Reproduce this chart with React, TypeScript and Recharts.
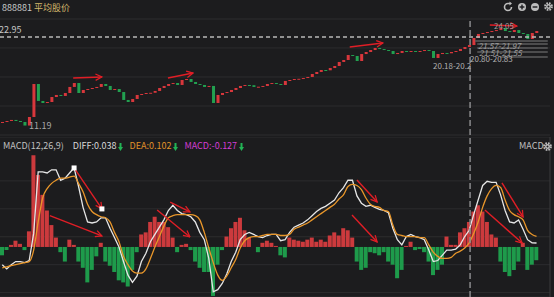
import { ComposedChart, Bar, Line, XAxis, YAxis, CartesianGrid, ReferenceLine, ReferenceDot, Cell } from 'recharts'

// daily closes of 888881 (open of each candle = previous close)
const firstOpen = 11.6
const closes = [
  11.72, 11.85, 11.99, 11.85, 11.72, 11.25, 12.38, 16.74, 14.5, 14.23,
  14.36, 15.02, 15.29, 15.16, 15.55, 16.35, 16.87, 15.55, 15.95, 16.08,
  16.21, 16.35, 16.74, 16.48, 15.95, 16.08, 15.68, 14.63, 14.36, 14.76,
  15.29, 15.42, 15.55, 15.58, 15.82, 16.21, 16.48, 16.74, 16.87, 16.61,
  17.27, 17.4, 17.01, 16.74, 16.61, 16.35, 16.48, 14.23, 15.29, 15.55,
  15.68, 15.95, 16.21, 16.48, 16.61, 16.58, 16.35, 16.38, 16.48, 16.74,
  16.87, 16.74, 16.61, 17.14, 17.27, 17.4, 17.43, 17.53, 17.67, 18.06,
  18.33, 18.59, 18.55, 18.85, 19.12, 19.65, 19.91, 20.57, 20.44, 19.78,
  20.7, 20.97, 21.23, 21.5, 21.36, 21.23, 21.1, 20.7, 20.84, 21.1,
  20.97, 21.1, 20.97, 21.1, 21.23, 21.1, 20.18, 20.7, 20.84, 20.8,
  20.97, 21.1, 21.36, 21.63, 21.89, 22.82, 23.35, 23.48, 23.61, 23.74,
  23.87, 24.14, 23.74, 23.61, 23.87, 23.48, 23.35, 22.69, 23.48, 23.74,
]

const diff = [
  -0.17, -0.21, -0.17, -0.14, -0.14, -0.15, -0.13, 0.13, 0.72, 0.72,
  0.71, 0.74, 0.74, 0.64, 0.66, 0.71, 0.76, 0.58, 0.38, 0.24,
  0.23, 0.24, 0.28, 0.28, 0.18, 0.09, 0.0, -0.14, -0.27, -0.34,
  -0.28, -0.14, -0.06, 0.05, 0.12, 0.19, 0.26, 0.35, 0.4, 0.35,
  0.32, 0.31, 0.29, 0.24, 0.14, 0.07, -0.11, -0.43, -0.41, -0.35,
  -0.26, -0.14, -0.05, 0.07, 0.12, 0.14, 0.12, 0.1, 0.09, 0.11,
  0.12, 0.12, 0.06, 0.07, 0.14, 0.19, 0.21, 0.23, 0.26, 0.3,
  0.34, 0.37, 0.39, 0.42, 0.45, 0.52, 0.57, 0.64, 0.64, 0.49,
  0.42, 0.39, 0.4, 0.38, 0.36, 0.35, 0.33, 0.18, 0.07, 0.02,
  0.1, 0.12, 0.1, 0.09, 0.07, -0.03, -0.14, -0.13, -0.08, -0.03,
  -0.03, -0.02, 0.02, 0.1, 0.16, 0.31, 0.45, 0.59, 0.63, 0.62,
  0.62, 0.5, 0.35, 0.24, 0.23, 0.26, 0.17, 0.07, 0.04, 0.038,
]

const dea = [
  -0.2, -0.19, -0.18, -0.17, -0.16, -0.15, -0.14, -0.03, 0.24, 0.47,
  0.56, 0.61, 0.64, 0.66, 0.66, 0.67, 0.68, 0.61, 0.53, 0.41,
  0.34, 0.31, 0.29, 0.28, 0.24, 0.14, 0.05, -0.09, -0.17, -0.23,
  -0.25, -0.25, -0.21, -0.11, 0.0, 0.1, 0.2, 0.28, 0.3, 0.31,
  0.31, 0.31, 0.31, 0.3, 0.26, 0.14, -0.01, -0.15, -0.27, -0.32,
  -0.28, -0.2, -0.12, -0.01, 0.06, 0.09, 0.1, 0.1, 0.11, 0.12,
  0.12, 0.12, 0.11, 0.11, 0.12, 0.17, 0.19, 0.21, 0.23, 0.26,
  0.29, 0.32, 0.35, 0.38, 0.41, 0.46, 0.5, 0.58, 0.6, 0.59,
  0.55, 0.47, 0.41, 0.39, 0.38, 0.35, 0.34, 0.21, 0.12, 0.11,
  0.1, 0.1, 0.1, 0.09, 0.09, 0.02, -0.05, -0.09, -0.11, -0.11,
  -0.1, -0.06, -0.04, -0.01, 0.04, 0.13, 0.24, 0.38, 0.49, 0.56,
  0.59, 0.57, 0.45, 0.35, 0.31, 0.29, 0.26, 0.16, 0.12, 0.102,
]

const hist = [
  -0.08, -0.03, 0.02, 0.06, 0.03, -0.03, 0.15, 0.88, 0.69, 0.5,
  0.35, 0.21, 0.09, -0.05, -0.14, 0.07, 0.02, -0.14, -0.2, -0.34,
  -0.22, -0.09, 0.04, -0.14, -0.18, -0.24, -0.32, -0.34, -0.38, -0.22,
  -0.05, 0.12, 0.14, 0.24, 0.29, 0.24, 0.24, 0.19, 0.09, -0.05,
  0.02, 0.03, -0.03, -0.14, -0.2, -0.24, -0.24, -0.47, -0.17, -0.03,
  0.1, 0.18, 0.24, 0.28, 0.16, 0.09, 0.0, -0.05, 0.04, 0.06,
  0.04, 0.01, -0.08, -0.1, 0.09, 0.07, 0.06, 0.05, 0.07, 0.09,
  0.05, 0.07, 0.05, 0.11, 0.14, 0.11, 0.18, 0.16, 0.09, -0.14,
  -0.22, -0.2, -0.05, -0.06, -0.08, -0.05, -0.14, -0.17, -0.3, -0.22,
  0.01, 0.05, -0.03, -0.02, -0.05, -0.14, -0.27, -0.22, -0.17, 0.1,
  0.02, 0.02, 0.14, 0.18, 0.24, 0.34, 0.4, 0.34, 0.24, 0.12,
  0.09, -0.14, -0.24, -0.28, -0.22, -0.14, 0.04, -0.22, -0.17, -0.127,
]

const priceTicks = [10, 13.83, 17.67, 21.5, 25.33]
const macdTicks = [0.768, 0.634, 0.5, 0.366, 0.232, 0.098, -0.036, -0.17, -0.304, -0.438]

// hand-drawn annotations (x = bar index, y = value)
const priceArrows = [
  [15.8, 17.53, 22.2, 17.67],
  [36.9, 17.53, 42.5, 18.19],
  [77.4, 21.63, 84.8, 22.16],
  [108.6, 24.53, 114.6, 24.4],
]
const macdArrows = [
  [16.0, 0.758, 22.2, 0.365],
  [10.6, 0.3, 22.2, 0.106],
  [34.5, 0.355, 41.8, 0.096],
  [37.4, 0.43, 41.8, 0.336],
  [79.0, 0.643, 83.5, 0.432],
  [77.9, 0.307, 83.5, 0.048],
  [111.3, 0.614, 116.0, 0.288],
  [107.5, 0.355, 115.8, 0.038],
]
const levelBars = [
  [105.3, 22.42],
  [105.8, 22.03],
  [105.8, 21.5],
  [105.8, 20.97],
  [110.9, 20.31],
]
const crossIndex = 104.2
const crossPrice = 22.95

const BG = '#1c1c1e'
const RED = '#d8373c'
const GREEN = '#22a050'
const HRED = '#cc3a3d'
const HGREEN = '#1e9b4b'
const ARROW = '#e01e26'
const GRID = '#2c2c2e'

const candles = closes.map((c, i) => {
  const o = i === 0 ? firstOpen : closes[i - 1]
  return { i, open: o, close: c, body: [Math.min(o, c), Math.max(o, c)] }
})
const macdRows = diff.map((d, i) => ({ i, diff: d, dea: dea[i], hist: hist[i] }))

function Candle(props: any) {
  const { x, y, width, height, payload } = props
  const up = payload.close >= payload.open
  const h = Math.max(1, Math.abs(height))
  const top = height < 0 ? y + height : y
  return <rect x={x} y={top} width={width} height={h} fill={up ? RED : GREEN} />
}

const arrowShape = (p: any) => (
  <line x1={p.x1} y1={p.y1} x2={p.x2} y2={p.y2} stroke={ARROW} strokeWidth={1.4} markerEnd="url(#ah)" />
)

const square = (p: any) => <rect x={p.cx - 2.5} y={p.cy - 2.5} width={5} height={5} fill="#fff" />

function DownMark() {
  return (
    <svg width={5} height={8} style={{ marginLeft: 2, verticalAlign: 'middle' }}>
      <rect x={1.5} y={0} width={2} height={4} fill="#22b455" />
      <path d="M0,4 L5,4 L2.5,8 Z" fill="#22b455" />
    </svg>
  )
}

function Gear({ left, top }: { left: number; top: number }) {
  return (
    <svg width={9} height={9} style={{ position: 'absolute', left, top }}>
      <circle cx={4.5} cy={4.5} r={3.3} fill="none" stroke="#bdbdbd" strokeWidth={2.2} strokeDasharray="1.6 1" />
      <circle cx={4.5} cy={4.5} r={2.4} fill="#bdbdbd" />
      <circle cx={4.5} cy={4.5} r={1} fill={BG} />
    </svg>
  )
}

const txt = (left: number, top: number, color: string, extra: any = {}) => ({
  position: 'absolute' as const,
  left,
  top,
  color,
  fontSize: 9,
  lineHeight: '10px',
  whiteSpace: 'nowrap' as const,
  ...extra,
})

const small = { fontSize: 8, lineHeight: '7px' }

export default function App() {
  return (
    <div
      style={{
        position: 'absolute',
        left: 0,
        top: 0,
        width: 554,
        height: 297,
        background: BG,
        overflow: 'hidden',
        fontFamily: '"Noto Sans CJK SC", "Noto Sans", sans-serif',
      }}
    >
      <svg width={0} height={0} style={{ position: 'absolute' }}>
        <defs>
          <marker id="ah" viewBox="0 0 10 10" refX="9" refY="5" markerWidth="8" markerHeight="8" markerUnits="userSpaceOnUse" orient="auto">
            <path d="M1,1 L9,5 L1,9" fill="none" stroke={ARROW} strokeWidth="1.6" />
          </marker>
        </defs>
      </svg>

      <div style={{ position: 'absolute', left: 0, top: 0 }}>
        <ComposedChart width={554} height={136} data={candles} margin={{ top: 19, right: 4, left: 0, bottom: 1 }}>
          <CartesianGrid vertical={false} stroke={GRID} />
          <XAxis type="number" dataKey="i" domain={[-0.5, 122]} hide />
          <YAxis domain={[10, 25.33]} ticks={priceTicks} hide allowDataOverflow />
          <ReferenceLine y={crossPrice} stroke="#b8b8b8" strokeWidth={1.5} strokeDasharray="4 3" />
          {levelBars.map(([x, y], k) => (
            <ReferenceLine key={'lv' + k} segment={[{ x, y }, { x: 121.5, y }]} stroke="#5c5c5e" strokeWidth={1.5} />
          ))}
          <Bar dataKey="body" barSize={3} shape={Candle} isAnimationActive={false} />
          <ReferenceLine x={crossIndex} stroke="#8a8a8c" strokeWidth={1.5} strokeDasharray="6 3" />
          {priceArrows.map(([x1, y1, x2, y2], k) => (
            <ReferenceLine key={'pa' + k} segment={[{ x: x1, y: y1 }, { x: x2, y: y2 }]} shape={arrowShape} />
          ))}
        </ComposedChart>
      </div>

      <div style={{ position: 'absolute', left: 0, top: 137 }}>
        <ComposedChart width={554} height={160} data={macdRows} margin={{ top: 0, right: 0, left: 0, bottom: 0 }}>
          <CartesianGrid vertical={false} stroke={GRID} />
          <XAxis type="number" dataKey="i" domain={[-0.5, 122]} hide />
          <YAxis
            orientation="right"
            width={4}
            domain={[-0.48, 1.055]}
            ticks={macdTicks}
            allowDataOverflow
            tickLine={false}
            axisLine={{ stroke: '#3a3a3c' }}
            tickMargin={2}
            tick={{ fill: '#aaaaaa', fontSize: 9 }}
            tickFormatter={(v) => Number(v).toFixed(3)}
          />
          <Bar dataKey="hist" barSize={4} isAnimationActive={false}>
            {macdRows.map((r) => (
              <Cell key={r.i} fill={r.hist >= 0 ? HRED : HGREEN} />
            ))}
          </Bar>
          <Line type="linear" dataKey="diff" stroke="#e6e6e6" strokeWidth={1.3} dot={false} isAnimationActive={false} />
          <Line type="monotone" dataKey="dea" stroke="#e8962a" strokeWidth={1.3} dot={false} isAnimationActive={false} />
          <ReferenceLine x={crossIndex} stroke="#8a8a8c" strokeWidth={1.5} strokeDasharray="6 3" />
          {macdArrows.map(([x1, y1, x2, y2], k) => (
            <ReferenceLine key={'ma' + k} segment={[{ x: x1, y: y1 }, { x: x2, y: y2 }]} shape={arrowShape} />
          ))}
          <ReferenceDot x={macdArrows[0][0]} y={macdArrows[0][1]} r={3} shape={square} />
          <ReferenceDot x={macdArrows[0][2]} y={macdArrows[0][3]} r={3} shape={square} />
        </ComposedChart>
      </div>

      {/* top header */}
      <div style={txt(2, 3, '#c8c8c8')}>
        888881 <span style={{ color: '#d2b86c' }}>平均股价</span>
      </div>
      <svg width={60} height={12} style={{ position: 'absolute', left: 502, top: 1 }}>
        <path d="M9.5,6 A3.5,3.5 0 1 1 6,2.5 L8,2.5" fill="none" stroke="#bdbdbd" strokeWidth={1.6} />
        <path d="M7.5,0.5 L10,2.5 L7.5,4.5 Z" fill="#bdbdbd" />
        <circle cx={20} cy={6} r={4} fill="#bdbdbd" />
        <rect x={17.6} y={5.3} width={4.8} height={1.4} fill={BG} />
        <rect x={19.3} y={3.6} width={1.4} height={4.8} fill={BG} />
        <circle cx={33} cy={6} r={4} fill="#bdbdbd" />
        <rect x={30.6} y={5.3} width={4.8} height={1.4} fill={BG} />
      </svg>
      <Gear left={544} top={2} />

      <div style={txt(-1, 25, '#c8c8c8')}>22.95</div>
      <div style={txt(29, 121, '#a8a8a8')}>11.19</div>
      <div style={txt(433, 62, '#b0b0b0', small)}>20.18-20.2</div>
      <div style={txt(470, 55, '#b0b0b0', small)}>20.80-20.83</div>
      <div style={txt(478, 42, '#a0a0a0', { ...small, fontStyle: 'italic' })}>21.57-21.97</div>
      <div style={txt(479, 49, '#a0a0a0', { ...small, fontStyle: 'italic' })}>21.51-21.55</div>
      <div style={txt(494, 22, '#9a9a9a', small)}>24.05</div>

      {/* MACD header */}
      <div style={txt(3, 141, '#c0c0c0')}>
        MACD(12,26,9)
        <span style={{ marginLeft: 9, color: '#d8d8d8' }}>DIFF:0.038</span>
        <DownMark />
        <span style={{ marginLeft: 6, color: '#e0922a' }}>DEA:0.102</span>
        <DownMark />
        <span style={{ marginLeft: 6, color: '#d43cd4' }}>MACD:-0.127</span>
        <DownMark />
      </div>
      <div style={txt(519, 141, '#c0c0c0')}>MACD</div>
      <Gear left={543} top={142} />
    </div>
  )
}
